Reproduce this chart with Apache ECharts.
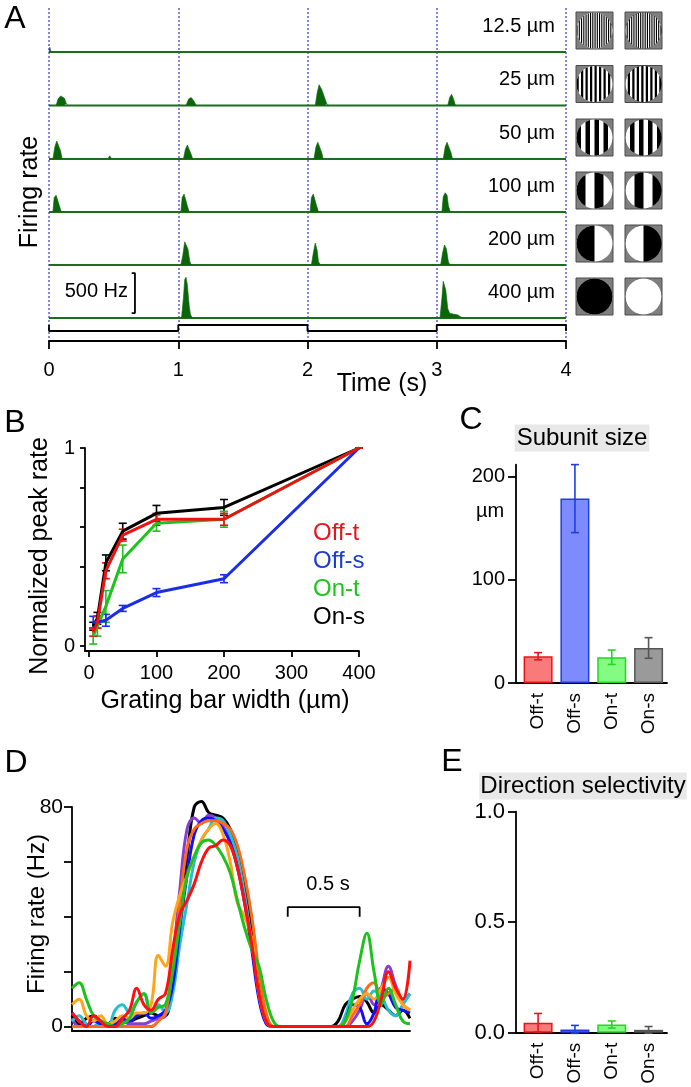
<!DOCTYPE html>
<html><head><meta charset="utf-8">
<script src="https://cdn.jsdelivr.net/npm/echarts@6/dist/echarts.min.js"></script>
<style>html,body{margin:0;padding:0;background:#fff}#c{width:691px;height:1087px}</style>
</head><body><div id="c"></div>
<script>
// ================= DATA =================
// Panel A: firing-rate traces (time s, rate Hz) for each grating bar width
const rowLabels = ['12.5 µm', '25 µm', '50 µm', '100 µm', '200 µm', '400 µm'];
const gratingWidths = [12.5, 25, 50, 100, 200, 400];
const rate12p5 = [[0,0],[0.006,60],[0.016,0],[4,0]];
const rate25 = [[0,0],[0.055,0],[0.07,80],[0.09,120],[0.105,140],[0.12,90],[0.135,20],[0.15,0],
  [1.06,0],[1.08,80],[1.1,100],[1.12,60],[1.14,0],
  [2.06,0],[2.075,160],[2.09,260],[2.11,200],[2.13,110],[2.15,20],[2.165,0],
  [3.085,0],[3.1,100],[3.115,140],[3.13,80],[3.145,0],[4,0]];
const rate50 = [[0,0],[0.03,0],[0.045,150],[0.06,225],[0.075,215],[0.09,100],[0.102,0],
  [0.455,0],[0.47,40],[0.485,0],
  [1.04,0],[1.055,120],[1.07,175],[1.085,150],[1.1,60],[1.112,0],
  [2.05,0],[2.065,150],[2.08,210],[2.095,190],[2.11,80],[2.122,0],
  [3.05,0],[3.065,150],[3.08,210],[3.095,190],[3.11,80],[3.122,0],[4,0]];
const rate100 = [[0,0],[0.03,0],[0.04,180],[0.055,210],[0.07,200],[0.08,80],[0.095,0],
  [1.02,0],[1.03,180],[1.045,225],[1.06,200],[1.07,80],[1.085,0],
  [2.02,0],[2.03,180],[2.045,225],[2.06,200],[2.07,80],[2.085,0],
  [3.04,0],[3.05,190],[3.065,240],[3.08,210],[3.09,80],[3.105,0],[4,0]];
const rate200 = [[0,0],[1.02,0],[1.035,120],[1.05,290],[1.06,310],[1.075,200],[1.09,40],[1.102,0],
  [2.03,0],[2.045,150],[2.06,275],[2.075,180],[2.085,40],[2.1,0],
  [3.03,0],[3.045,150],[3.06,250],[3.075,200],[3.09,40],[3.102,0],[4,0]];
const rate400 = [[0,0],[1.025,0],[1.04,250],[1.05,480],[1.06,510],[1.07,420],[1.085,150],[1.095,40],[1.11,0],
  [3.025,0],[3.04,250],[3.05,460],[3.06,475],[3.07,350],[3.085,120],[3.1,60],[3.11,70],[3.125,50],
  [3.14,60],[3.16,40],[3.175,45],[3.19,10],[3.205,0],[4,0]];
const stimTime = [0, 0, 1, 1, 2, 2, 3, 3, 4, 4];
const stimLevel = [1, 0, 0, 1, 1, 0, 0, 1, 1, 0];
const scaleBarHz = 500;

// Panel B: normalized peak rate vs grating bar width
const barWidthUm = [6.25, 12.5, 25, 50, 100, 200, 400];
const offT = [0.07, 0.12, 0.38, 0.56, 0.64, 0.64, 1];
const offTErr = [0.02, 0.03, 0.04, 0.03, 0.03, 0.03, 0];
const offS = [0.12, 0.12, 0.13, 0.19, 0.27, 0.34, 1];
const offSErr = [0.03, 0.03, 0.03, 0.015, 0.02, 0.02, 0];
const onT = [0.05, 0.1, 0.2, 0.44, 0.62, 0.64, 1];
const onTErr = [0.04, 0.05, 0.08, 0.07, 0.04, 0.04, 0];
const onS = [0.1, 0.14, 0.42, 0.58, 0.67, 0.70, 1];
const onSErr = [0.02, 0.03, 0.04, 0.04, 0.04, 0.04, 0];
const legendB = ['Off-t', 'Off-s', 'On-t', 'On-s'];

// Panel C: subunit size (µm)
const cellTypes = ['Off-t', 'Off-s', 'On-t', 'On-s'];
const subunitSize = [26, 179, 25, 34];
const subunitErr = [3.5, 33, 7, 10];

// Panel E: direction selectivity
const dsIndex = [0.045, 0.015, 0.037, 0.013];
const dsErr = [0.042, 0.018, 0.016, 0.015];

// Panel D: firing rate (Hz) traces over time (s)
const dTime = [0,0.05,0.1,0.15,0.2,0.25,0.3,0.35,0.4,0.45,0.5,0.55,0.6,0.65,0.7,0.75,0.8,0.85,0.9,0.95,1,1.05,1.1,1.15,1.2,1.25,1.3,1.35,1.4,1.45,1.5,1.55,1.6,1.65,1.7,1.75,1.8,1.85,1.9,1.95,2,2.05,2.1,2.15,2.2,2.25,2.3,2.35];
const dBlack  = [4,1,3,4,2,1,3,2,2,3,4,5,4,4, 20,42,62,80,82,78,77,76,72,65,52,35,16,3, 0,0,0,0,0,0,0,0,0, 2,8,10,11,9,5,8,6,4,6,3];
const dPurple = [3,0,0,0,1,0,0,2,1,1,1,2,3,4, 24,50,72,76,74,77,76,73,68,60,47,30,12,2, 0,0,0,0,0,0,0,0,0, 0,0,2,6,12,8,14,22,15,10,12];
const dCyan   = [2,4,1,0,2,0,6,8,5,9,12,6,8,5, 12,30,45,60,68,72,76,75,70,62,48,30,12,2, 0,0,0,0,0,0,0,0,0, 0,4,12,14,10,13,11,6,4,8,12];
const dBlue   = [5,2,0,2,1,0,1,3,2,4,5,3,4,6, 15,36,55,70,75,76,75,72,67,58,45,28,10,1, 0,0,0,0,0,0,0,0,0, 0,2,8,7,1,5,14,12,7,6,5];
const dOrange = [0,0,0,0,0,0,0,0,0,0,0,0,2,5, 22,45,65,72,74,75,75,74,72,66,55,40,20,5, 0,0,0,0,0,0,0,0,0, 0,0,4,8,14,16,10,12,14,8,6];
const dAmber  = [8,10,4,2,4,1,2,4,3,5,5,8,26,22, 38,48,55,62,68,72,74,70,60,45,40,32,12,2, 0,0,0,0,0,0,0,0,0, 0,2,6,10,12,10,14,18,12,8,6];
const dGreen  = [14,16,10,4,2,1,0,1,3,9,12,5,7,8, 20,38,55,62,67,68,66,62,56,46,36,28,22,10, 2,0,0,0,0,0,0,0,0, 0,2,10,24,34,20,8,14,8,2,1];
const dRed    = [5,2,0,4,2,0,0,3,6,14,8,6,10,12, 28,41,46,52,60,65,66,68,66,58,45,30,12,2, 0,0,0,0,0,0,0,0,0, 0,0,0,0,0,2,10,20,14,10,24];
const scaleBarSec = 0.5;

// ================= LAYOUT / STYLE =================
const FONT = "'Liberation Sans', Arial, Helvetica, sans-serif";
const chart = echarts.init(document.getElementById('c'), null, {renderer: 'canvas', width: 691, height: 1087});

const grids = [], xAxes = [], yAxes = [], series = [], graphics = [];
function addGrid(g, x, y) {
  grids.push(g); const i = grids.length - 1;
  xAxes.push(Object.assign({gridIndex: i}, x));
  yAxes.push(Object.assign({gridIndex: i}, y));
  return i;
}
const hidden = (min, max) => ({type: 'value', show: false, min, max});
const axLine = {show: true, onZero: false, lineStyle: {color: '#000', width: 1.8}};
const lbl = (size, extra) => Object.assign({color: '#000', fontSize: size, fontFamily: FONT}, extra || {});
function text(str, x, y, size, opts) {
  opts = opts || {};
  graphics.push({type: 'text', x, y, rotation: opts.rot || 0, z: 100,
    style: Object.assign({text: str, fontSize: size, fontFamily: FONT, fill: opts.color || '#000',
      align: opts.align || 'center', verticalAlign: 'middle'}, opts.style || {})});
}

// ---------- Panel A ----------
const A_LEFT = 49, A_WIDTH = 517, ROW_H = 50, HZ_MAX = 625;
const rowBaselines = [52, 105.5, 159, 212, 265, 318];
const rowRates = [rate12p5, rate25, rate50, rate100, rate200, rate400];

addGrid({left: A_LEFT, width: A_WIDTH, top: 8, height: 333},
  {type: 'value', min: 0, max: 4, interval: 1, axisLine: axLine,
   axisTick: {show: true, length: 8, lineStyle: {color: '#000', width: 1.8}},
   axisLabel: lbl(20, {margin: 19}),
   splitLine: {show: true, lineStyle: {type: [2, 2], color: '#5c5cd8', width: 1.5}}},
  {type: 'value', min: 0, max: 1, show: false});

// split a trace into its response bumps (runs between zero-rate points)
function bumps(d) {
  const out = []; let cur = null;
  for (let i = 0; i < d.length; i++) {
    const p = d[i];
    if (p[1] === 0) {
      if (cur) { cur.push(p); out.push(cur); cur = null; }
      if (i + 1 < d.length && d[i + 1][1] !== 0) cur = [p];
    } else if (cur) cur.push(p);
    else cur = [p];
  }
  if (cur) out.push(cur);
  return out;
}
rowRates.forEach((d, k) => {
  const gi = addGrid({left: A_LEFT, width: A_WIDTH, top: rowBaselines[k] - ROW_H, height: ROW_H},
    hidden(0, 4), hidden(0, HZ_MAX));
  series.push({type: 'line', xAxisIndex: gi, yAxisIndex: gi, data: [d[0], d[d.length - 1]], symbol: 'none', clip: false,
    lineStyle: {color: '#1b6e1b', width: 2}, z: 3});
  bumps(d).forEach(seg => series.push({type: 'line', xAxisIndex: gi, yAxisIndex: gi, data: seg, symbol: 'none', clip: false,
    lineStyle: {color: '#0b650b', width: 0.6}, areaStyle: {color: '#0b650b', opacity: 1}, z: 4}));
  text(rowLabels[k], 555, rowBaselines[k] - 26, 20, {align: 'right'});
  if (k === 5) {
    series.push({type: 'line', xAxisIndex: gi, yAxisIndex: gi, symbol: 'none', clip: false,
      data: [[0.64, 62], [0.665, 62], [0.665, 62 + scaleBarHz], [0.64, 62 + scaleBarHz]],
      lineStyle: {color: '#000', width: 1.8}});
  }
});
text('500 Hz', 128, 291, 20, {align: 'right'});

const giStim = addGrid({left: A_LEFT, width: A_WIDTH, top: 325, height: 6}, hidden(0, 4), hidden(0, 1));
series.push({type: 'line', xAxisIndex: giStim, yAxisIndex: giStim, symbol: 'none', clip: false,
  data: stimTime.map((t, i) => [t, stimLevel[i]]), lineStyle: {color: '#000', width: 1.8}});

text('Time (s)', 382, 384, 25);
text('Firing rate', 30, 192, 25, {rot: Math.PI / 2});
text('A', 15, 19, 32);

function gratingIcon(left, top, size, barUm, invert) {
  const cx = left + size / 2, cy = top + size / 2, r = size / 2 - 0.5, s = r / 200;
  const base = invert ? '#000' : '#fff', stripe = invert ? '#fff' : '#000';
  const children = [
    {type: 'rect', shape: {x: left, y: top, width: size, height: size}, style: {fill: '#7f7f7f', stroke: '#4a4a4a', lineWidth: 1}},
    {type: 'circle', shape: {cx, cy, r}, style: {fill: base}}
  ];
  let k = 0;
  for (let a = -200; a < 200 - 1e-6; a += barUm, k++) {
    if (k % 2) continue;
    const b = Math.min(a + barUm, 200);
    const pts = [], n = Math.max(6, Math.ceil((b - a) / 6));
    for (let j = 0; j <= n; j++) { const px = (a + (b - a) * j / n) * s; const h = Math.sqrt(Math.max(r * r - px * px, 0)); pts.push([cx + px, cy - h]); }
    for (let j = n; j >= 0; j--) { const px = (a + (b - a) * j / n) * s; const h = Math.sqrt(Math.max(r * r - px * px, 0)); pts.push([cx + px, cy + h]); }
    children.push({type: 'polygon', shape: {points: pts}, style: {fill: stripe}});
  }
  return {type: 'group', children};
}
gratingWidths.forEach((w, k) => {
  graphics.push(gratingIcon(576, rowBaselines[k] - 40, 37, w, false));
  graphics.push(gratingIcon(625, rowBaselines[k] - 40, 37, w, true));
});

// ---------- Panel B ----------
const giB = addGrid({left: 85, width: 274, top: 448, height: 203},
  {type: 'value', min: -5.9, max: 400, axisLine: axLine,
   axisTick: {show: true, length: 6, lineStyle: {color: '#000', width: 1.8}, customValues: [0, 100, 200, 300, 400]},
   axisLabel: lbl(20, {margin: 12, customValues: [0, 100, 200, 300, 400]}), splitLine: {show: false}},
  {type: 'value', min: -0.025, max: 1, axisLine: axLine,
   axisTick: {show: true, length: 5, lineStyle: {color: '#000', width: 1.8}, customValues: [0, 0.2, 0.4, 0.6, 0.8, 1]},
   axisLabel: lbl(20, {margin: 10, customValues: [0, 1]}), splitLine: {show: false}});

function errRender(colorFn, capHalf, lw) {
  return function (params, api) {
    const x = api.value(0), y = api.value(1), e = api.value(2);
    const c = colorFn(api.value(3));
    const top = api.coord([x, y + e]), bot = api.coord([x, y - e]);
    const st = {stroke: c, lineWidth: lw};
    return {type: 'group', children: [
      {type: 'line', shape: {x1: top[0], y1: top[1], x2: bot[0], y2: bot[1]}, style: st},
      {type: 'line', shape: {x1: top[0] - capHalf, y1: top[1], x2: top[0] + capHalf, y2: top[1]}, style: st},
      {type: 'line', shape: {x1: bot[0] - capHalf, y1: bot[1], x2: bot[0] + capHalf, y2: bot[1]}, style: st}
    ]};
  };
}
const bSeries = [
  {vals: onS, err: onSErr, color: '#000000'},
  {vals: onT, err: onTErr, color: '#1ec21e'},
  {vals: offS, err: offSErr, color: '#1a2ee8'},
  {vals: offT, err: offTErr, color: '#ee1111'}
];
bSeries.forEach(s => {
  series.push({type: 'custom', xAxisIndex: giB, yAxisIndex: giB, renderItem: errRender(() => s.color, 4, 1.6),
    encode: {x: 0, y: 1}, data: barWidthUm.map((x, i) => [x, s.vals[i], s.err[i], 0]), z: 4});
  series.push({type: 'line', xAxisIndex: giB, yAxisIndex: giB, symbol: 'none', clip: false,
    data: barWidthUm.map((x, i) => [x, s.vals[i]]), lineStyle: {color: s.color, width: 3}, z: 5});
});
const legendColors = ['#e8141c', '#1a3fd0', '#1cc41c', '#000000'];
legendB.forEach((t, i) => text(t, 313, [533, 561, 589, 617][i], 24, {align: 'left', color: legendColors[i]}));
text('Grating bar width (µm)', 225, 701, 25);
text('Normalized peak rate', 40, 556, 25, {rot: Math.PI / 2});
text('B', 15, 423, 32);

// ---------- Panel C & E ----------
const barFill = ['#f87a7a', '#7d8bff', '#84fc84', '#9a9a9a'];
const barEdge = ['#e8141c', '#1f3de0', '#22d822', '#555555'];
function barPanel(top, height, yMax, yTicks, yLabels, yFmt, yFont, vals, errs) {
  const gi = addGrid({left: 516, width: 151, top, height},
    {type: 'value', min: -0.6, max: 3.5, axisLine: axLine, axisTick: {show: false},
     axisLabel: lbl(19, {margin: 10, rotate: 90, customValues: [0, 1, 2, 3], formatter: v => cellTypes[Math.round(v)]}),
     splitLine: {show: false}},
    {type: 'value', min: 0, max: yMax, axisLine: axLine,
     axisTick: {show: true, length: 8, lineStyle: {color: '#000', width: 1.8}, customValues: yTicks},
     axisLabel: lbl(yFont, {margin: 11, customValues: yLabels, formatter: yFmt}), splitLine: {show: false}});
  series.push({type: 'bar', xAxisIndex: gi, yAxisIndex: gi, barWidth: 29,
    data: vals.map((v, i) => ({value: [i, v], itemStyle: {color: barFill[i], borderColor: barEdge[i], borderWidth: 1.5}})), z: 2});
  series.push({type: 'custom', xAxisIndex: gi, yAxisIndex: gi, renderItem: errRender(i => barEdge[i], 4, 1.6),
    encode: {x: 0, y: 1}, data: vals.map((v, i) => [i, v, errs[i], i]), z: 4});
  return gi;
}
barPanel(464.6, 218.4, 212, [0, 100, 200], [0, 100, 200], v => String(v), 20, subunitSize, subunitErr);
text('µm', 490, 511, 20);
text('Subunit size', 582, 438, 24, {style: {backgroundColor: '#e8e8e8', padding: [2, 2, 1, 2]}});
text('C', 471, 420, 32);

barPanel(811.7, 221, 1, [0, 0.5, 1], [0, 0.5, 1], v => v.toFixed(1), 22, dsIndex, dsErr);
text('Direction selectivity', 583, 786, 24, {style: {backgroundColor: '#e8e8e8', padding: [2, 1, 1, 1]}});
text('E', 452, 762, 32);

// ---------- Panel D ----------
const giD = addGrid({left: 72, width: 338, top: 807, height: 224},
  {type: 'value', min: 0, max: 2.35, axisLine: axLine, axisTick: {show: false}, axisLabel: {show: false}, splitLine: {show: false}},
  {type: 'value', min: -1.6, max: 80, axisLine: axLine,
   axisTick: {show: true, length: 8, lineStyle: {color: '#000', width: 1.8}, customValues: [0, 20, 40, 60, 80]},
   axisLabel: lbl(21, {margin: 9, customValues: [0, 80]}), splitLine: {show: false}});
const dTraces = [
  [dBlack, '#000000'], [dPurple, '#8a3cd6'], [dCyan, '#22c0d0'], [dBlue, '#1010ff'],
  [dOrange, '#ff6a1a'], [dAmber, '#ffa51a'], [dGreen, '#1ec21e'], [dRed, '#ff1010']
];
dTraces.forEach(([vals, c]) => {
  series.push({type: 'line', xAxisIndex: giD, yAxisIndex: giD, symbol: 'none', smooth: 0.4, clip: false,
    data: dTime.map((t, i) => [t, vals[i]]), lineStyle: {color: c, width: 3}});
});
series.push({type: 'line', xAxisIndex: giD, yAxisIndex: giD, symbol: 'none', clip: false,
  data: [[1.5, 40], [1.5, 43.5], [1.5 + scaleBarSec, 43.5], [1.5 + scaleBarSec, 40]], lineStyle: {color: '#000', width: 1.8}});
text('0.5 s', 328, 884, 20);
text('Firing rate (Hz)', 37, 914, 24, {rot: Math.PI / 2});
text('D', 16, 763, 32);

chart.setOption({
  animation: false,
  backgroundColor: '#fff',
  textStyle: {fontFamily: FONT},
  grid: grids, xAxis: xAxes, yAxis: yAxes, series, graphic: graphics
});
</script></body></html>
